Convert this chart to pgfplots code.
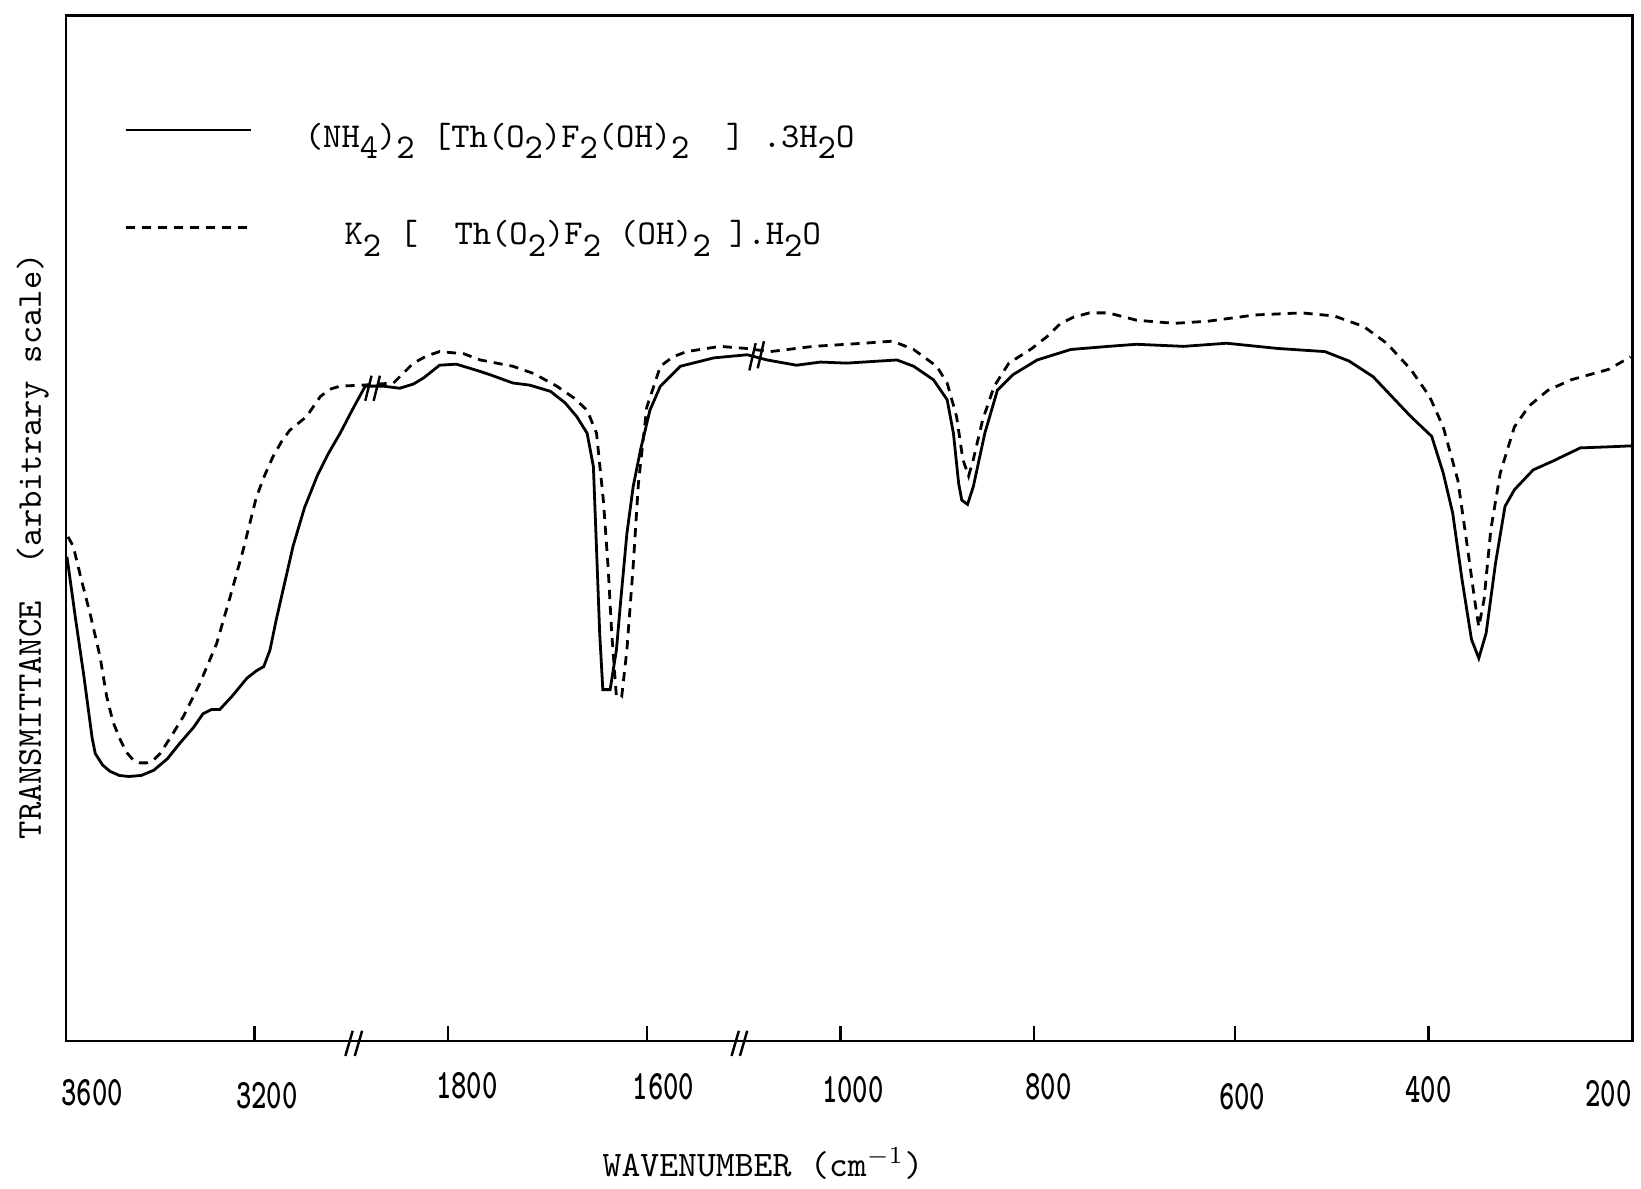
\documentclass[border=0pt]{standalone}
\usepackage{graphicx}
\usepackage{pgfplots}
\pgfplotsset{compat=1.18}
\renewcommand\familydefault{\ttdefault}
\newcommand\sub[1]{\raisebox{-0.75ex}{#1}}
\newcommand\tl[2]{\raisebox{#1}[9pt][0pt]{\scalebox{0.7}[1]{\fontsize{12}{12}\selectfont\bfseries #2}}}
\begin{document}
\begin{tikzpicture}
\begin{axis}[
  scale only axis, width=449.1pt, height=294pt,
  xmin=63, xmax=1560, ymin=0, ymax=980,
  axis line style={line width=0.7pt},
  xtick={243,428,618,803,988,1180,1365}, xticklabels={},
  xtick pos=bottom, tick align=inside, major tick length=4.5pt,
  tick style={line width=0.7pt, black},
  ytick=\empty,
  extra x ticks={88,255,446,634,815,1002,1187,1365,1537},
  extra x tick labels={\tl{-0.6pt}{3600},\tl{-1.5pt}{3200},\tl{1.2pt}{1800},\tl{0.9pt}{1600},\tl{0.3pt}{1000},\tl{0.9pt}{800},\tl{-1.8pt}{600},\tl{0.3pt}{400},\tl{-0.9pt}{200}},
  extra x tick style={major tick length=0pt, xticklabel style={yshift=-5.2pt}},
  clip=false,
  legend cell align=left,
  legend style={at={(axis cs:118,878)}, anchor=north west, draw=none, fill=none,
    inner sep=0pt, row sep=17.9pt, column sep=15pt,
    nodes={inner sep=0pt, text height=7pt, text depth=3pt, anchor=base west},
    font=\fontsize{10}{12}\selectfont},
  legend image code/.code={\draw[#1] (0pt,5pt) -- (36pt,5pt);},
]
\addplot[black, line width=0.8pt] coordinates {
(64,463) (72,405) (80,350) (88,290) (91,275) (98,264) (105,258) (114,254) (123,253) (135,254) (147,259) (160,270) (172,285) (185,300) (194,313) (202,317) (210,317) (222,330) (236,347) (245,354) (252,358) (258,374) (264,403) (272,438) (280,473) (291,510) (303,540) (314,562) (325,581) (337,604) (349,626) (366,626) (382,624) (395,628) (405,634) (420,646) (436,647) (459,640) (468,637) (490,629) (506,627) (526,621) (540,610) (551,597) (561,581) (567,549) (570,470) (573,390) (576,336) (583,336) (589,374) (593,420) (599,485) (605,530) (612,565) (621,603) (631,626) (650,645) (682,653) (714,656) (733,651) (761,646) (784,649) (809,648) (857,651) (873,645) (892,632) (905,613) (911,581) (916,533) (919,517) (924.5,513) (930,530) (941,581) (953,622) (968,637) (991,651) (1023,661) (1059,664) (1086,666) (1131,664) (1172,667) (1221,662) (1266,659) (1289,650) (1312,635) (1330,616) (1348,597) (1368,578) (1379,543) (1388,505) (1397,441) (1406,384) (1413,366) (1420,390) (1429,457) (1438,511) (1447,527) (1465,546) (1483,554) (1510,567) (1537,568) (1560,569)
};
\addlegendentry{(NH\sub{4})\sub{2} [Th(O\sub{2})F\sub{2}(OH)\sub{2}~~] .3H\sub{2}O}
\addplot[black, line width=0.8pt, dash pattern=on 2.6pt off 2pt] coordinates {
(65,482) (70,473) (78,440) (86,409) (95.5,368) (102,329) (108,305) (115,288) (121,276) (127,269) (134,266) (140,266) (147,269) (153,275) (164,292) (175,310) (191,342) (207,380) (220,425) (232.5,470) (245,520) (253,541) (261,559) (269,573) (277,584) (293,597) (306,616) (315,623) (325,626) (347,627) (376,629) (385,638) (395,648) (408,655) (420,659) (443,657) (459,651) (490,645) (510,638) (532,626) (548,615) (561,603) (570,581) (576.5,517) (581,454) (584.5,390) (589,329) (594,329) (599,374) (605,454) (610,533) (618,606) (631,645) (643,654) (656,659) (688,664) (713,662) (736,659) (777,664) (825,667) (853,669) (873,661) (895,645) (905,629) (914,597) (920,556) (925.5,540) (930,556) (939,594) (950,626) (964,648) (986,662) (1000,673) (1013.5,686) (1026,692) (1041,696) (1059,696) (1086,689) (1122,686) (1154,688) (1199,694) (1244,696) (1275,693) (1303,683) (1325,667) (1348,642) (1366,616) (1379,587) (1393,536) (1402,473) (1409,422) (1413,396) (1418,422) (1424.5,489) (1433.5,543) (1447,587) (1461,607) (1479,622) (1501,632) (1519,637) (1537,642) (1558,654)
};
\addlegendentry{\hspace*{11.4pt}K\sub{2} [~~Th(O\sub{2})F\sub{2} (OH)\sub{2} ].H\sub{2}O}
% axis break marks
\draw[line width=0.7pt] (axis cs:330,-14) -- (axis cs:337,10) (axis cs:339,-14) -- (axis cs:346,10);
\draw[line width=0.7pt] (axis cs:699,-14) -- (axis cs:706,10) (axis cs:707,-14) -- (axis cs:714,10);
% curve break marks
\draw[line width=0.7pt] (axis cs:349,612) -- (axis cs:355,636) (axis cs:357,612) -- (axis cs:363,636);
\draw[line width=0.7pt] (axis cs:716,641) -- (axis cs:722,667) (axis cs:724,643) -- (axis cs:730,669);
% labels
\node[anchor=base, font=\fontsize{10.3}{12}\selectfont] at (axis cs:729,-129) {WAVENUMBER (cm$^{-1}$)};
\node[rotate=90, anchor=base, font=\fontsize{10}{12}\selectfont] at (axis cs:39,473) {TRANSMITTANCE~~(arbitrary scale)};
\end{axis}
\pgfresetboundingbox
\path ([shift={(-18.9pt,-42.3pt)}]current axis.south west) rectangle ([shift={(2.4pt,4.5pt)}]current axis.north east);
\end{tikzpicture}
\end{document}
